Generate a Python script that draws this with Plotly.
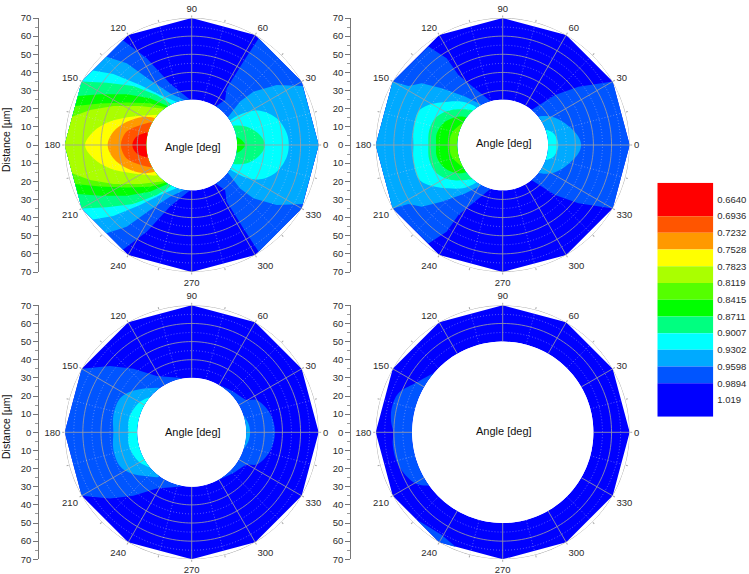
import numpy as np
import plotly.graph_objects as go

W, H = 749, 574
FONT = "Liberation Sans, Arial, sans-serif"
TEXT = "#2b2b2b"

# colour scale (legend blocks, top to bottom)
legend_labels = ["0.6640", "0.6936", "0.7232", "0.7528", "0.7823", "0.8119", "0.8415",
                 "0.8711", "0.9007", "0.9302", "0.9598", "0.9894", "1.019"]
RED, ORED, ORANGE, YELLOW, YG, LG, GREEN, SPRING, CYAN, AZURE, BLUISH, BLUE = (
    "#ff0000", "#ff5500", "#ff9900", "#ffff00", "#aaff00", "#55ff00",
    "#00ff00", "#00ff80", "#00ffff", "#00aaff", "#0055ff", "#0000ff")
legend_colors = [RED, ORED, ORANGE, YELLOW, YG, LG, GREEN, SPRING, CYAN, AZURE, BLUISH, BLUE]
legend_edges = [14, 12, 11, 10, 9, 8, 7, 6, 5, 4, 3, 2, 0]

angle_labels = list(range(0, 360, 30))
distance_ticks = [70, 60, 50, 40, 30, 20, 10, 0, 10, 20, 30, 40, 50, 60, 70]
outer_r = 70
hole_r = [25, 25, 30, 50]

# contour boundaries: (angle deg, distance um)
# upper halves, mirrored about the 0-180 line
p1_left_bluish = [(92, 25), (109.4, 36), (117.4, 53.8), (123.3, 69.1), (150, 70), (180, 70)]
p1_left_azure = [(98.5, 25), (112.8, 30.9), (122.7, 42.5), (128.5, 57.5), (134, 67.6), (150, 70), (180, 70)]
p1_left_cyan = [(109, 25), (122.3, 32.6), (130.7, 43.6), (137.8, 58.3), (143, 68.2), (150, 70), (180, 70)]
p1_left_spring = [(116, 25), (125, 33.6), (134.7, 45.7), (143.7, 58), (150, 70), (180, 70)]
p1_left_green = [(121.3, 25), (131.8, 34.5), (142, 45.4), (151, 57.7), (156.7, 68.3), (180, 70)]
p1_left_lg = [(124, 25), (135, 32.5), (146.9, 42.8), (155.6, 55.5), (161.5, 67.7), (180, 70)]
p1_left_yg = [(127, 25), (143, 35.7), (153.5, 48.2), (161, 59.3), (166.7, 67.7), (180, 70)]
p1_left_yellow = [(139, 25.4), (154, 35.7), (164, 46.8), (172.3, 54.7), (180, 58.8)]
p1_left_orange = [(144, 25), (150, 31), (160.3, 38), (170.4, 43.8), (180, 46.3)]
p1_left_ored = [(150, 25), (159, 30.5), (168, 36.5), (175, 38.5), (180, 39)]
p1_left_red = [(164, 25), (170, 30), (175, 32), (180, 32.7)]
p1_right_bluish = [(58, 25), (53.5, 31), (58.3, 36.7), (58.2, 54), (57.9, 69.5), (30, 70), (0, 70)]
p1_right_azure = [(37.7, 25.5), (41.9, 35.8), (40.8, 44.9), (35.2, 57.3), (28, 69.3), (0, 70)]
p1_right_cyan = [(32.4, 25), (31.5, 33.4), (26.7, 42.1), (17.4, 49.1), (7, 52.8), (0, 53.5)]
p1_right_spring = [(24.9, 25), (18.4, 32), (8.3, 38), (0, 40.4)]
p1_right_green = [(10.5, 25), (5.7, 27.7), (0, 29.4)]

p2_left_bluish = [(105.5, 25), (122.3, 45.7), (122.9, 56.9), (127, 68), (150, 70), (180, 70)]
p2_left_azure = [(117.7, 25), (127.9, 33.8), (137.1, 45.9), (142.7, 56.1), (148, 61.3), (150, 70), (180, 70)]
p2_left_cyan = [(125, 25), (131.4, 31.4), (141.4, 38.3), (151.7, 46.5), (158.4, 50), (170.5, 49.9), (180, 49.2)]
p2_left_spring = [(130.8, 25), (145.5, 34.1), (156.8, 39.6), (168.4, 41.3), (180, 41)]
p2_left_green = [(143, 25), (147.4, 29), (158, 34.3), (170, 36.9), (180, 36.7)]
p2_left_lg = [(150, 25), (167, 28.8), (180, 29.4)]
p2_right_bluish = [(50.7, 25), (43.7, 39.9), (37.6, 52.7), (30, 70), (0, 70)]
p2_right_azure = [(38.5, 25), (30, 31.2), (19.2, 36.4), (6.3, 42), (0, 43.2)]
p2_right_cyan = [(19.5, 25), (13, 28.7), (0, 30.7)]

p3_left_bluish = [(100.6, 30.4), (121.9, 36.5), (132.6, 47.5), (141, 58), (150, 70), (180, 70)]
p3_left_azure = [(126.7, 30.7), (135.6, 34.7), (146.6, 40.7), (154.6, 43.7), (167.5, 44.2), (180, 43.2)]
p3_left_cyan = [(140, 30), (142.9, 31), (151.5, 33.5), (167.4, 35.4), (180, 34.9)]
p3_right_bluish = [(62.5, 30), (44.3, 32.1), (30.5, 35.2), (26.4, 40), (13.6, 44.4), (0, 45.9)]
p3_right_azure = [(18, 30), (10, 31.5), (5, 32), (0, 32.2)]

# panel 4 contours are not symmetric: whole boundaries
p4_left_bluish = [(139.6, 50), (150.8, 55.4), (159.5, 61.4), (167.8, 62.6), (174.5, 61.8), (180, 60.3),
                  (186.6, 61), (197.4, 60.3), (210.2, 55.9), (216.2, 50)]
p4_patch_bluish = [(225.5, 67.6), (231.8, 66.2), (239.3, 65.8), (247.8, 68.3), (240, 70), (225.5, 67.6)]

# panel placement in pixels
centers = [(191.7, 145.0), (502.7, 145.0), (191.7, 432.3), (502.7, 432.3)]
radius = 127.0
axis_x = [38.3, 350.3, 38.3, 350.3]
angle_text = [(192.7, 146.7), (504.3, 143.3), (192.7, 432.0), (504.3, 431.0)]
distance_title = [(6.0, 140.0), (6.0, 427.0)]


def mirrored(path, left):
    back = [((360 - t) if left else -t, r) for t, r in reversed(path)]
    return path + back[1:]


def closed_on_hole(path, r0):
    t0, t1 = path[0][0], path[-1][0]
    arc = np.linspace(t1, t0, 60)
    th = [p[0] for p in path] + list(arc)
    rr = [p[1] for p in path] + [r0] * len(arc)
    return th, rr


# boundaries with no corner on the outer rim can be drawn as smooth curves
def touches_rim(path):
    return any(r >= outer_r for _, r in path)


panels = [
    [(p1_left_bluish, BLUISH, True), (p1_left_azure, AZURE, True), (p1_left_cyan, CYAN, True),
     (p1_left_spring, SPRING, True), (p1_left_green, GREEN, True), (p1_left_lg, LG, True),
     (p1_left_yg, YG, True), (p1_left_yellow, YELLOW, True), (p1_left_orange, ORANGE, True),
     (p1_left_ored, ORED, True), (p1_left_red, RED, True),
     (p1_right_bluish, BLUISH, False), (p1_right_azure, AZURE, False), (p1_right_cyan, CYAN, False),
     (p1_right_spring, SPRING, False), (p1_right_green, GREEN, False)],
    [(p2_left_bluish, BLUISH, True), (p2_left_azure, AZURE, True), (p2_left_cyan, CYAN, True),
     (p2_left_spring, SPRING, True), (p2_left_green, GREEN, True), (p2_left_lg, LG, True),
     (p2_right_bluish, BLUISH, False), (p2_right_azure, AZURE, False), (p2_right_cyan, CYAN, False)],
    [(p3_left_bluish, BLUISH, True), (p3_left_azure, AZURE, True), (p3_left_cyan, CYAN, True),
     (p3_right_bluish, BLUISH, False), (p3_right_azure, AZURE, False)],
    [],
]

fig = go.Figure()
layout = {}
annotations = []
GRID = "rgba(160,160,160,0.9)"
MINOR = "rgba(210,210,230,0.7)"

for i, (cx, cy) in enumerate(centers):
    name = "polar" if i == 0 else f"polar{i + 1}"
    r0 = hole_r[i]

    def add(th, rr, color=None, line=None, dash=None, width=1, smooth=False):
        kw = dict(theta=th, r=rr, subplot=name, showlegend=False, hoverinfo="skip", mode="lines")
        if color:
            kw.update(fill="toself", fillcolor=color, cliponaxis=True,
                      line=dict(width=0, color=color, shape="spline" if smooth else "linear"))
        else:
            kw.update(cliponaxis=False, line=dict(color=line, width=width, dash=dash or "solid"))
        fig.add_trace(go.Scatterpolar(**kw))

    # base level: 12-sided outline of the data grid
    th = angle_labels + [360]
    rim_th = th + list(np.linspace(360, 0, 120))
    rim_r = [outer_r] * len(th) + [r0] * 120
    add(rim_th, rim_r, color=BLUE)

    for path, color, left in panels[i]:
        t, r = closed_on_hole(mirrored(path, left), r0)
        add(t, r, color=color, smooth=not touches_rim(path))
    if i == 3:
        t, r = closed_on_hole(p4_left_bluish, r0)
        add(t, r, color=BLUISH, smooth=True)
        add([p[0] for p in p4_patch_bluish], [p[1] for p in p4_patch_bluish], color=BLUISH)

    # grid drawn over the filled contours
    ring = np.linspace(0, 360, 181)
    for rv in range(5, 70, 5):
        if rv > r0:
            if rv % 10 == 0:
                add(ring, [rv] * len(ring), line=GRID, width=0.9)
            else:
                add(ring, [rv] * len(ring), line=MINOR, dash="1px,2px", width=0.6)
    for a in range(0, 360, 15):
        if a % 30 == 0:
            add([a, a], [r0, outer_r], line=GRID, width=0.9)
        else:
            add([a, a], [r0, outer_r], line=MINOR, dash="1px,2px", width=0.6)
    add(ring, [outer_r] * len(ring), line="#a8a8a8", width=1)

    layout[name] = dict(
        domain=dict(x=[(cx - radius) / W, (cx + radius) / W],
                    y=[1 - (cy + radius) / H, 1 - (cy - radius) / H]),
        bgcolor="rgba(0,0,0,0)",
        hole=r0 / outer_r,
        radialaxis=dict(range=[r0, outer_r], visible=False, showgrid=False),
        angularaxis=dict(
            rotation=0, direction="counterclockwise", showgrid=False, showline=False,
            tickmode="array", tickvals=list(range(0, 360, 15)),
            ticktext=[str(a) if a % 30 == 0 else "" for a in range(0, 360, 15)],
            ticks="outside", ticklen=2, tickcolor="#a8a8a8",
            tickfont=dict(family=FONT, size=9.5, color=TEXT),
        ),
    )
    ax, ay = angle_text[i]
    annotations.append(dict(text="Angle [deg]", x=ax / W, y=1 - ay / H, xref="paper", yref="paper",
                            xanchor="center", yanchor="middle",
                            showarrow=False, font=dict(family=FONT, size=11, color="#111")))

    # left distance scale
    yname = "yaxis" if i == 0 else f"yaxis{i + 1}"
    yref = "y" if i == 0 else f"y{i + 1}"
    fig.add_trace(go.Scatter(x=[0], y=[0], xaxis="x", yaxis=yref, mode="none",
                             showlegend=False, hoverinfo="skip"))
    layout[yname] = dict(
        domain=[1 - (cy + radius) / H, 1 - (cy - radius) / H], range=[-70, 70],
        anchor="free", position=axis_x[i] / W, side="left",
        tickmode="array", tickvals=list(range(70, -71, -10)), ticktext=[str(v) for v in distance_ticks],
        ticks="outside", ticklen=5, tickcolor="#777", tickwidth=1,
        minor=dict(ticks="outside", ticklen=3, tickcolor="#999", tickvals=list(range(-65, 70, 10))),
        showline=True, linecolor="#777", linewidth=1, showgrid=False, zeroline=False,
        tickfont=dict(family=FONT, size=9.5, color=TEXT),
    )

for tx, ty in distance_title:
    annotations.append(dict(text="Distance [µm]", x=tx / W, y=1 - ty / H, xref="paper", yref="paper",
                            xanchor="center", yanchor="middle",
                            textangle=-90, showarrow=False, font=dict(family=FONT, size=10.5, color="#111")))

# colour legend
bases = legend_edges[1:]
heights = [a - b for a, b in zip(legend_edges[:-1], legend_edges[1:])]
fig.add_trace(go.Bar(x=[0] * len(heights), y=heights, base=bases, width=1, xaxis="x2", yaxis="y5",
                     marker=dict(color=legend_colors, line=dict(width=0)), showlegend=False,
                     hoverinfo="skip"))

fig.update_layout(
    width=W, height=H, margin=dict(l=0, r=0, t=0, b=0, pad=0, autoexpand=False),
    paper_bgcolor="white", plot_bgcolor="rgba(0,0,0,0)",
    annotations=annotations, barmode="overlay",
    xaxis=dict(visible=False, domain=[0, 0.01], range=[-1, 1]),
    xaxis2=dict(visible=False, domain=[657.3 / W, 713.3 / W], range=[-0.5, 0.5]),
    yaxis5=dict(domain=[1 - 416.7 / H, 1 - 182.7 / H], range=[0, 14], anchor="x2", side="right",
                tickmode="array", tickvals=list(range(13, 0, -1)), ticktext=legend_labels,
                ticks="", showgrid=False, zeroline=False, showline=False, ticklabelstandoff=3,
                tickfont=dict(family=FONT, size=9.5, color=TEXT)),
    **layout,
)
fig.write_html("out.html", config={"displayModeBar": False},
               post_script="document.body.style.margin='0';document.documentElement.style.overflow='hidden';")
